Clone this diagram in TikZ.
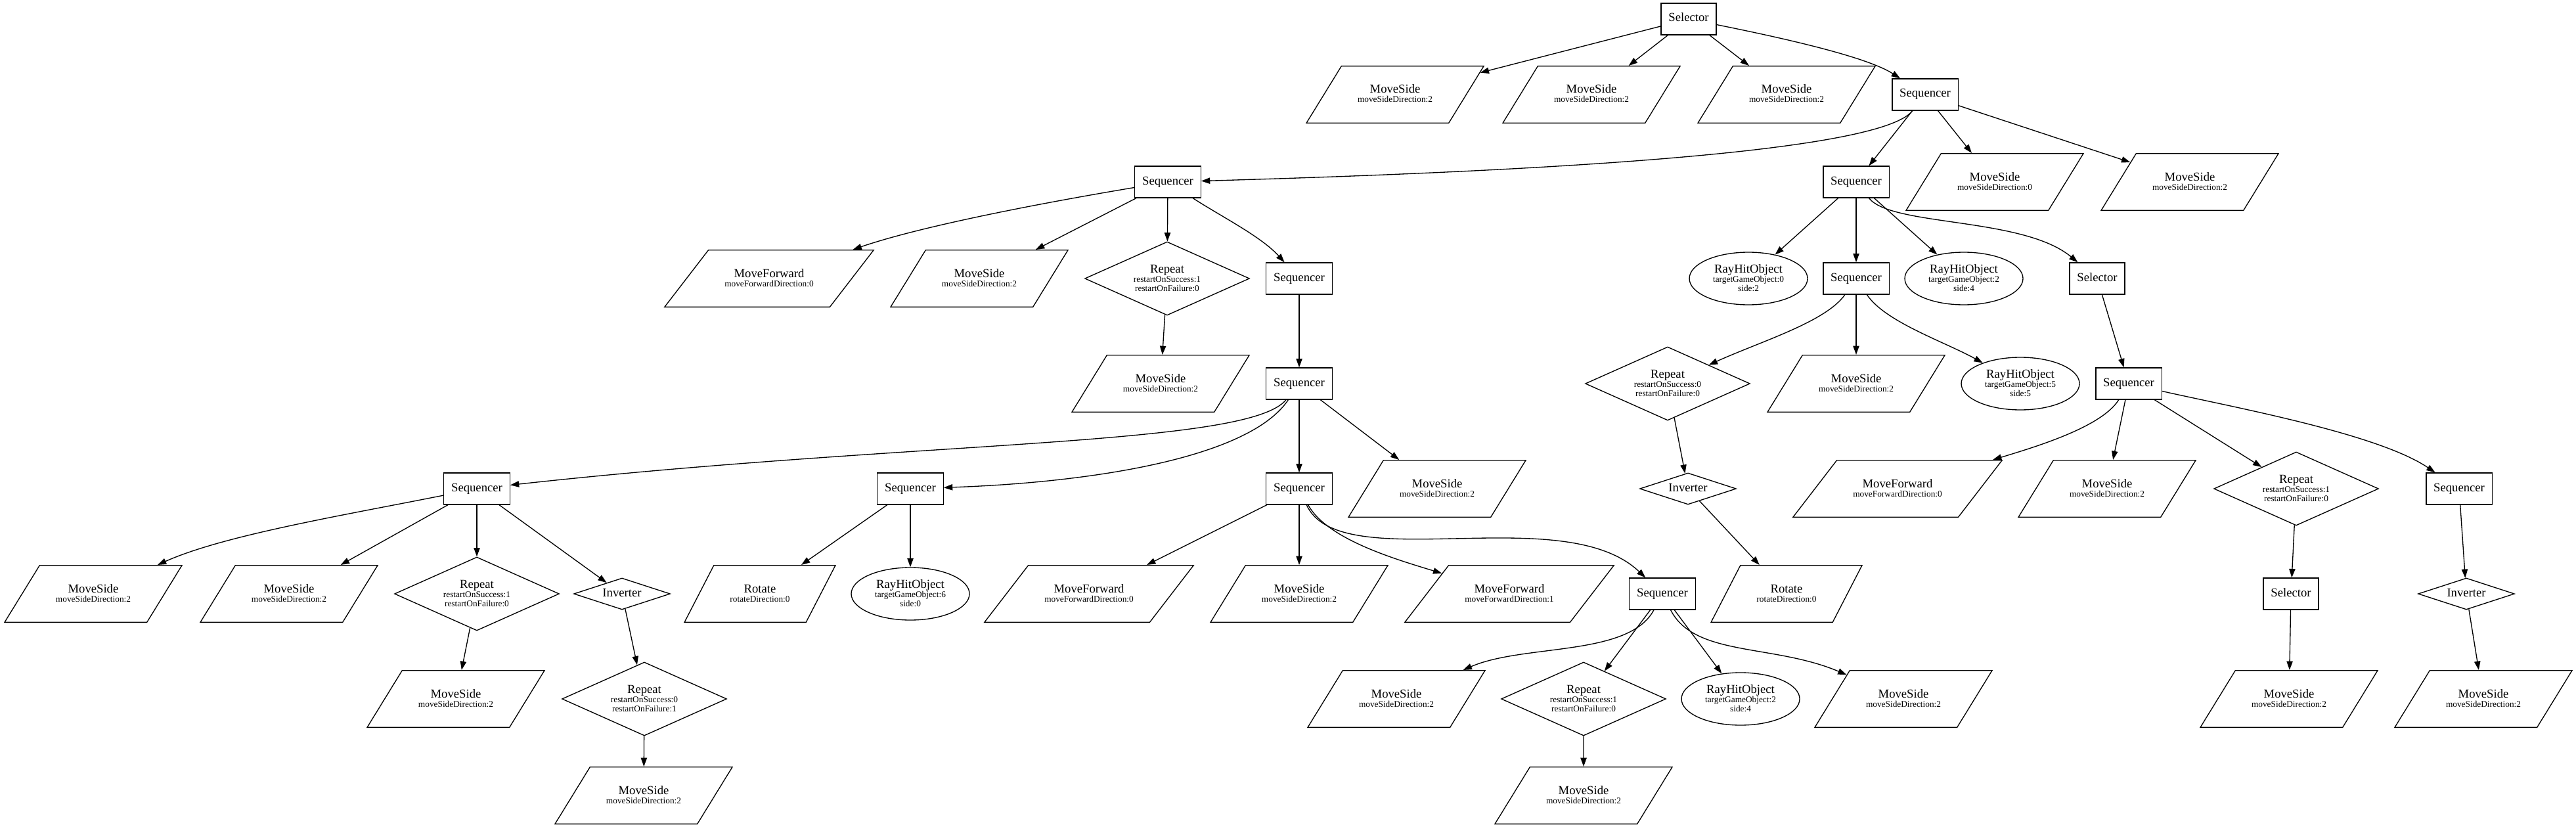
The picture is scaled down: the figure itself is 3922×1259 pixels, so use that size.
\documentclass[tikz,border=0pt]{standalone}
\usepackage{fontspec}
\setmainfont{Liberation Serif}
\usetikzlibrary{shapes.geometric,arrows.meta}

% label of an action or condition node: name, then its parameters
\newcommand{\acttxt}[2]{\begin{tabular}[t]{@{}c@{}}{\fontsize{14}{10.5}\selectfont #1}\\#2\end{tabular}}
\newcommand{\condtxt}[3]{\begin{tabular}[t]{@{}c@{}}{\fontsize{14}{10.5}\selectfont #1}\\#2\\#3\end{tabular}}
\newcommand{\mvside}[1]{\acttxt{MoveSide}{moveSideDirection:#1}}
\newcommand{\mvfwd}[1]{\acttxt{MoveForward}{moveForwardDirection:#1}}
\newcommand{\rayhit}[2]{\condtxt{RayHitObject}{targetGameObject:#1}{side:#2}}
\newcommand{\repeattxt}[2]{\condtxt{Repeat}{restartOnSuccess:#1}{restartOnFailure:#2}}

\begin{document}
\begin{tikzpicture}[x=0.75pt, y=0.75pt, line width=1pt,
  >={Triangle[length=10pt, width=7pt]},
  every node/.style={font=\fontsize{10}{10.5}\selectfont},
  ctrl/.style={draw, rectangle, minimum height=36pt, inner xsep=8.5pt, inner ysep=0pt,
    text height=9.5pt, text depth=3.5pt, font=\fontsize{14}{16}\selectfont},
  act/.style={draw, trapezium, inner xsep=18.5pt, inner ysep=0pt,
    text height=31pt, text depth=34pt},
  actms/.style={act, trapezium left angle=58.4, trapezium right angle=121.6},
  actmf/.style={act, trapezium left angle=52.4, trapezium right angle=127.6},
  actrot/.style={act, trapezium left angle=62.7, trapezium right angle=117.3},
  rep/.style={draw, diamond, shape aspect=2.24, minimum width=188pt, minimum height=84pt,
    inner sep=0pt, text height=10pt, text depth=23.5pt},
  inv/.style={draw, diamond, shape aspect=3, minimum width=110pt, minimum height=36pt,
    inner sep=0pt, text height=9.5pt, text depth=3.5pt, font=\fontsize{14}{16}\selectfont},
  ray/.style={draw, ellipse, minimum width=135pt, minimum height=60pt, inner sep=0pt,
    text height=10pt, text depth=23.5pt}]

  % Fix the size of the picture
  \useasboundingbox (0,0) rectangle (3922,-1259);

  % Root and its children
  \node[ctrl] (sel0) at (2571,-29) {Selector};
  \node[actms] (msB1) at (2124,-144) {\mvside{2}};
  \node[actms] (msB2) at (2423,-144) {\mvside{2}};
  \node[actms] (msB3) at (2720,-144) {\mvside{2}};
  \node[ctrl] (seqB) at (2931,-144) {Sequencer};

  % Third rank
  \node[ctrl] (seqC1) at (1778,-277) {Sequencer};
  \node[ctrl] (seqC2) at (2826,-277) {Sequencer};
  \node[actms] (msC1) at (3037,-277) {\mvside{0}};
  \node[actms] (msC2) at (3334,-277) {\mvside{2}};

  % Fourth rank
  \node[actmf] (mfD1) at (1171,-424) {\mvfwd{0}};
  \node[actms] (msD1) at (1491,-424) {\mvside{2}};
  \node[rep] (repD1) at (1777,-424) {\repeattxt{1}{0}};
  \node[ctrl] (seqD1) at (1978,-424) {Sequencer};
  \node[ray] (rayD1) at (2662,-424) {\rayhit{0}{2}};
  \node[ctrl] (seqD2) at (2826,-424) {Sequencer};
  \node[ray] (rayD2) at (2990,-424) {\rayhit{2}{4}};
  \node[ctrl] (selD1) at (3193,-424) {Selector};

  % Fifth rank
  \node[actms] (msE1) at (1767,-584) {\mvside{2}};
  \node[ctrl] (seqE1) at (1978,-584) {Sequencer};
  \node[rep] (repE1) at (2539,-584) {\repeattxt{0}{0}};
  \node[actms] (msE2) at (2826,-584) {\mvside{2}};
  \node[ray] (rayE1) at (3076,-584) {\rayhit{5}{5}};
  \node[ctrl] (seqE2) at (3241,-584) {Sequencer};

  % Sixth rank
  \node[ctrl] (seqF1) at (726,-744) {Sequencer};
  \node[ctrl] (seqF2) at (1386,-744) {Sequencer};
  \node[ctrl] (seqF3) at (1978,-744) {Sequencer};
  \node[actms] (msF1) at (2188,-744) {\mvside{2}};
  \node[inv] (invF1) at (2570,-744) {Inverter};
  \node[actmf] (mfF1) at (2889,-744) {\mvfwd{0}};
  \node[actms] (msF2) at (3208,-744) {\mvside{2}};
  \node[rep] (repF1) at (3496,-744) {\repeattxt{1}{0}};
  \node[ctrl] (seqF4) at (3744,-744) {Sequencer};

  % Seventh rank
  \node[actms] (msG1) at (142,-904) {\mvside{2}};
  \node[actms] (msG2) at (440,-904) {\mvside{2}};
  \node[rep] (repG1) at (726,-904) {\repeattxt{1}{0}};
  \node[inv] (invG1) at (947,-904) {Inverter};
  \node[actrot] (rotG1) at (1157,-904) {\acttxt{Rotate}{rotateDirection:0}};
  \node[ray] (rayG1) at (1386,-904) {\rayhit{6}{0}};
  \node[actmf] (mfG1) at (1658,-904) {\mvfwd{0}};
  \node[actms] (msG3) at (1978,-904) {\mvside{2}};
  \node[actmf] (mfG2) at (2298,-904) {\mvfwd{1}};
  \node[ctrl] (seqG1) at (2531,-904) {Sequencer};
  \node[actrot] (rotG2) at (2720,-904) {\acttxt{Rotate}{rotateDirection:0}};
  \node[ctrl] (selG1) at (3488,-904) {Selector};
  \node[inv] (invG2) at (3755,-904) {Inverter};

  % Eighth rank
  \node[actms] (msH1) at (694,-1064) {\mvside{2}};
  \node[rep] (repH1) at (981,-1064) {\repeattxt{0}{1}};
  \node[actms] (msH2) at (2126,-1064) {\mvside{2}};
  \node[rep] (repH2) at (2411,-1064) {\repeattxt{1}{0}};
  \node[ray] (rayH1) at (2650,-1064) {\rayhit{2}{4}};
  \node[actms] (msH3) at (2898,-1064) {\mvside{2}};
  \node[actms] (msH4) at (3485,-1064) {\mvside{2}};
  \node[actms] (msH5) at (3781,-1064) {\mvside{2}};

  % Last rank
  \node[actms] (msI1) at (980,-1211) {\mvside{2}};
  \node[actms] (msI2) at (2411,-1211) {\mvside{2}};

  % Edges from the root
  \draw[->] (sel0) -- (msB1);
  \draw[->] (sel0) -- (msB2);
  \draw[->] (sel0) -- (msB3);
  \draw[->] (sel0) .. controls (2700,-55) and (2840,-85) .. (seqB);

  % Edges of the main sequencer
  \draw[->] (seqB) .. controls (2860,-235) and (2300,-262) .. (seqC1);
  \draw[->] (seqB) -- (seqC2);
  \draw[->] (seqB) -- (msC1);
  \draw[->] (seqB) -- (msC2);

  % Left branch
  \draw[->] (seqC1) .. controls (1580,-310) and (1400,-345) .. (mfD1);
  \draw[->] (seqC1) -- (msD1);
  \draw[->] (seqC1) -- (repD1);
  \draw[->] (seqC1) .. controls (1860,-330) and (1920,-360) .. (seqD1);
  \draw[->] (repD1) -- (msE1);
  \draw[->] (seqD1) -- (seqE1);
  \draw[->] (seqE1) .. controls (1900,-680) and (1400,-670) .. (seqF1);
  \draw[->] (seqE1) .. controls (1900,-700) and (1650,-735) .. (seqF2);
  \draw[->] (seqE1) -- (seqF3);
  \draw[->] (seqE1) -- (msF1);

  \draw[->] (seqF1) .. controls (520,-785) and (340,-815) .. (msG1);
  \draw[->] (seqF1) -- (msG2);
  \draw[->] (seqF1) -- (repG1);
  \draw[->] (seqF1) -- (invG1);
  \draw[->] (repG1) -- (msH1);
  \draw[->] (invG1) -- (repH1);
  \draw[->] (repH1) -- (msI1);

  \draw[->] (seqF2) -- (rotG1);
  \draw[->] (seqF2) -- (rayG1);

  \draw[->] (seqF3) -- (mfG1);
  \draw[->] (seqF3) -- (msG3);
  \draw[->] (seqF3) .. controls (2020,-820) and (2120,-850) .. (mfG2);
  \draw[->] (seqF3) .. controls (2040,-880) and (2380,-760) .. (seqG1);
  \draw[->] (seqG1) .. controls (2480,-1000) and (2320,-980) .. (msH2);
  \draw[->] (seqG1) -- (repH2);
  \draw[->] (seqG1) -- (rayH1);
  \draw[->] (seqG1) .. controls (2580,-1000) and (2700,-980) .. (msH3);
  \draw[->] (repH2) -- (msI2);

  % Right branch
  \draw[->] (seqC2) -- (rayD1);
  \draw[->] (seqC2) -- (seqD2);
  \draw[->] (seqC2) -- (rayD2);
  \draw[->] (seqC2) .. controls (2880,-345) and (3080,-330) .. (selD1);
  \draw[->] (seqD2) .. controls (2780,-490) and (2680,-520) .. (repE1);
  \draw[->] (seqD2) -- (msE2);
  \draw[->] (seqD2) .. controls (2870,-490) and (2960,-520) .. (rayE1);
  \draw[->] (repE1) -- (invF1);
  \draw[->] (invF1) -- (rotG2);

  \draw[->] (selD1) -- (seqE2);
  \draw[->] (seqE2) .. controls (3200,-650) and (3100,-680) .. (mfF1);
  \draw[->] (seqE2) -- (msF2);
  \draw[->] (seqE2) -- (repF1);
  \draw[->] (seqE2) .. controls (3400,-620) and (3620,-660) .. (seqF4);
  \draw[->] (repF1) -- (selG1);
  \draw[->] (selG1) -- (msH4);
  \draw[->] (seqF4) -- (invG2);
  \draw[->] (invG2) -- (msH5);

\end{tikzpicture}
\end{document}
